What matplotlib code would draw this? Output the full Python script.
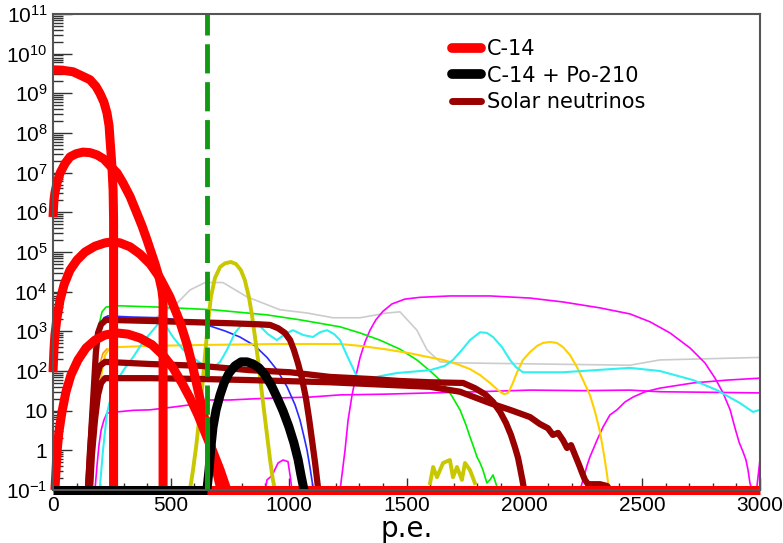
import matplotlib
matplotlib.use("Agg")
import matplotlib.pyplot as plt
from matplotlib.ticker import FixedLocator, FixedFormatter, LogLocator, MultipleLocator, NullFormatter

plt.rcParams['mathtext.fontset'] = 'custom'
plt.rcParams['mathtext.rm'] = 'Liberation Sans'

# C-14 spectra (red)
c14_1_pe = [0, 42, 85, 123, 157, 182, 199, 216, 229, 238, 242, 246, 250, 255, 257, 257]
c14_1 = [3.9e9, 3.8e9, 3.5e9, 2.75e9, 2.2e9, 1.5e9, 1.0e9, 6e8, 3.2e8, 1.5e8, 6.6e7, 3.2e7, 1.4e7,
         3.6e6, 6.5e5, 0.1]
c14_2_pe = [0, 4, 8, 17, 30, 51, 72, 98, 127, 157, 187, 216, 242, 272, 297, 327, 356, 378, 399, 416,
            433, 450, 462, 467, 467]
c14_2 = [7.6e5, 2.0e6, 3.1e6, 5.5e6, 9.8e6, 1.7e7, 2.5e7, 3.0e7, 3.3e7, 3.2e7, 2.8e7, 2.2e7, 1.5e7,
         9.8e6, 5.5e6, 2.5e6, 9.5e5, 4.5e5, 2.0e5, 1.0e5, 5.0e4, 2.3e4, 1.1e4, 6.2e3, 0.1]
c14_3_pe = [0, 4, 8, 17, 30, 47, 72, 102, 136, 178, 221, 250, 284, 327, 369, 412, 454, 496, 539, 569,
            594, 615, 637, 658, 679, 700, 713]
c14_3 = [93, 340, 810, 2200, 6200, 1.5e4, 3.5e4, 6.3e4, 1.0e5, 1.4e5, 1.7e5, 1.8e5, 1.7e5, 1.35e5,
         8.9e4, 5.0e4, 2.2e4, 7.4e3, 1.7e3, 460, 120, 33, 9.3, 2.75, 0.76, 0.21, 0.1]
c14_4_pe = [8, 13, 17, 25, 38, 55, 76, 106, 140, 178, 221, 272, 318, 369, 420, 467, 509, 547, 581,
            615, 649, 679, 709, 738]
c14_4 = [0.1, 0.32, 0.91, 2.9, 9.3, 30, 79, 190, 380, 600, 810, 910, 850, 680, 460, 250, 120, 50, 21,
         7.8, 2.45, 0.91, 0.32, 0.1]
c14_floor_pe = [650, 3000]
c14_floor = [0.1, 0.1]

# C-14 + Po-210 (black)
po_floor_pe = [0, 653]
po_floor = [0.1, 0.1]
po_pe = [653, 662, 670, 679, 692, 709, 726, 747, 772, 798, 823, 849, 874, 900, 925, 950, 976, 1001,
         1022, 1040, 1052, 1065]
po = [0.1, 0.32, 1.2, 3.9, 10.5, 25, 50, 89, 135, 170, 170, 150, 120, 79, 45, 22, 9.8, 3.9, 1.55,
      0.58, 0.24, 0.1]

# solar neutrinos (dark red)
nu_a_pe = [148, 157, 165, 174, 182, 191, 204, 225, 454, 751, 878, 921, 955, 984, 1006, 1022, 1039,
           1056, 1073, 1086, 1099, 1112, 1124]
nu_a = [0.1, 0.76, 5.8, 45, 300, 910, 1500, 1950, 1800, 1600, 1500, 1450, 1200, 910, 600, 340, 160,
        66, 21, 6.6, 1.8, 0.48, 0.12]
nu_b_pe = [148, 157, 170, 182, 199, 221, 412, 624, 836, 1006, 1175, 1345, 1472, 1600, 1740, 1790,
           1833, 1867, 1897, 1922, 1943, 1960, 1973, 1981, 1990, 1998]
nu_b = [0.1, 1.0, 10.5, 59, 135, 170, 150, 135, 105, 93, 71, 63, 56, 52, 50, 37, 26, 16.6, 9.3, 4.9,
        2.45, 1.2, 0.65, 0.38, 0.2, 0.11]
nu_c_pe = [157, 165, 178, 191, 204, 221, 412, 624, 836, 1175, 1600, 1727, 1854, 1939, 2024, 2066,
           2100, 2121, 2143, 2164, 2181, 2198, 2215, 2232, 2244, 2257, 2270, 2321, 2351, 2363]
nu_c = [0.1, 0.76, 5.8, 25, 50, 66, 66, 63, 59, 52, 40, 30, 15.5, 10.5, 6.9, 4.6, 3.6, 2.45, 2.75,
        1.8, 1.15, 1.35, 0.76, 0.43, 0.28, 0.18, 0.14, 0.14, 0.126, 0.1]

# other backgrounds (thin lines)
lime_pe = [140, 148, 157, 170, 182, 195, 208, 225, 284, 441, 679, 908, 1048, 1218, 1303, 1387, 1472,
           1544, 1600, 1655, 1693, 1727, 1752, 1769, 1786, 1799, 1812, 1824, 1841, 1854, 1867, 1884]
lime = [0.1, 0.58, 4.4, 45, 340, 1450, 3100, 4100, 4400, 4100, 3500, 2600, 1950, 1300, 910, 600, 355,
        190, 100, 50, 23, 10.5, 4.4, 2.2, 1.15, 0.68, 0.48, 0.32, 0.15, 0.18, 0.24, 0.12]
blue_pe = [144, 153, 161, 174, 187, 199, 216, 233, 327, 454, 581, 653, 730, 793, 857, 908, 950, 993,
           1027, 1048, 1065, 1078, 1090, 1103]
blue = [0.1, 0.58, 4.4, 59, 460, 1450, 2200, 2450, 2300, 2200, 1800, 1450, 1020, 720, 430, 220, 107,
        40, 14, 5.8, 2.2, 1.0, 0.38, 0.12]
cyan_pe = [199, 212, 229, 250, 272, 306, 339, 382, 424, 454, 479, 509, 551, 594, 624, 653, 679, 709,
           738, 772, 806, 849, 878, 912, 950, 984, 1018, 1061, 1103, 1133, 1163, 1193, 1218, 1252,
           1290, 1315, 1387, 1460, 1600, 1663, 1697, 1735, 1769, 1812, 1841, 1867, 1905, 1939, 1964,
           1994, 2164, 2448, 2575, 2716, 2817, 2915, 2970, 3000]
cyan = [0.12, 1.0, 8.7, 28, 59, 120, 220, 540, 1070, 1740, 1350, 720, 350, 220, 160, 126, 120, 170,
        340, 910, 1620, 1740, 1350, 850, 600, 850, 1070, 810, 720, 950, 1070, 850, 600, 215,
        71, 59, 74, 89, 105, 135, 190, 340, 600, 950, 910, 720, 400, 190, 126,
        93, 93, 120, 100, 59, 33, 15.5, 9.3, 10.5]
gold_pe = [157, 170, 182, 195, 208, 221, 238, 272, 412, 653, 963, 1218, 1303, 1409, 1515, 1600, 1655,
           1714, 1769, 1812, 1854, 1888, 1914, 1931, 1948, 1969, 1994, 2024, 2054, 2079, 2109, 2138,
           2164, 2194, 2223, 2249, 2278, 2300, 2321, 2338, 2351, 2359]
gold = [0.1, 0.58, 4.4, 25, 105, 250, 360, 400, 430, 455, 480, 480, 430, 355, 280, 220, 190,
        150, 112, 79, 50, 33, 26, 28, 45, 93, 190, 300, 430, 510, 540, 510,
        400, 250, 126, 59, 25, 9.3, 2.9, 0.76, 0.24, 0.1]
orange_pe = [165, 174, 182, 191, 199, 212, 229]
orange = [0.1, 1.2, 10, 60, 150, 280, 360]
olive_pe = [581, 594, 607, 620, 632, 645, 658, 670, 687, 709, 730, 755, 776, 797, 814, 831, 844, 857,
            870, 882, 895, 908, 921, 933, 942]
olive = [0.1, 0.32, 1.2, 5.8, 33, 250, 1740, 7400, 2.2e4, 4.2e4, 5.2e4, 5.6e4, 5.0e4, 3.5e4, 1.95e4,
         7.4e3, 2.6e3, 720, 190, 45, 10.5, 2.45, 0.58, 0.18, 0.1]
olive_tail_pe = [1600, 1613, 1629, 1655, 1684, 1697, 1714, 1735, 1748, 1769, 1790]
olive_tail = [0.15, 0.38, 0.21, 0.48, 0.57, 0.21, 0.38, 0.18, 0.48, 0.32, 0.15]
mag_low_pe = [178, 187, 195, 204, 216, 229, 272, 340, 412, 509, 580, 653, 751, 860, 963, 1090, 1218,
              1400, 1600, 1800, 2024, 2250, 2448, 2575, 2800, 3000]
mag_low = [0.1, 0.43, 1.35, 3.2, 5.8, 8.7, 9.3, 10.2, 10.5, 12.3, 14, 18.6, 18.6, 20, 21, 22, 25,
           26, 28, 30, 33, 32, 33, 30, 29, 28]
mag_arch_pe = [1218, 1226, 1239, 1252, 1269, 1286, 1303, 1324, 1345, 1370, 1400, 1438, 1493, 1557,
               1684, 1854, 2024, 2164, 2321, 2448, 2533, 2618, 2703, 2766, 2809, 2843, 2873, 2894,
               2911, 2928, 2940, 2949, 2957, 2966]
mag_arch = [0.1, 0.24, 1.0, 5.8, 25, 79, 220, 540, 1070, 1950, 3200, 4900, 6500, 7200,
            7800, 7800, 6900, 5500, 3900, 2750, 1740, 910, 380, 160, 66, 28, 10.5, 3.6,
            1.6, 0.91, 0.58, 0.32, 0.15, 0.1]
mag_edge_pe = [2985, 3000]
mag_edge = [0.1, 0.6]
mag_rise_pe = [2236, 2249, 2265, 2278, 2293, 2308, 2334, 2363, 2393, 2427, 2461, 2512, 2575, 2716,
               2860, 3000]
mag_rise = [0.1, 0.18, 0.4, 0.68, 1.1, 1.8, 3.9, 7.8, 10.5, 16.6, 22, 30, 37, 50, 59, 66]
mag_bump_pe = [900, 908, 929, 955, 976, 997, 1006, 1014]
mag_bump = [0.1, 0.18, 0.23, 0.48, 0.57, 0.52, 0.23, 0.1]
gray_pe = [441, 526, 581, 645, 721, 823, 963, 1078, 1188, 1303, 1417, 1472, 1544, 1587, 1642, 1727,
           2448, 2575, 3000]
gray = [2300, 5100, 1.1e4, 1.7e4, 1.7e4, 7400, 3500, 2900, 2200, 2200, 2900, 3100, 1070, 340, 170, 160,
        140, 190, 220]

threshold_pe = 653

y_ticks = [1e-1, 1, 10, 1e2, 1e3, 1e4, 1e5, 1e6, 1e7, 1e8, 1e9, 1e10, 1e11]
y_labels = [r'$\mathregular{10^{-1}}$', '1', '10'] + [r'$\mathregular{10^{%d}}$' % k for k in range(2, 12)]


def main():
    fig = plt.figure(figsize=(7.83, 5.43), dpi=100)
    ax = fig.add_axes([0.0677, 0.0976, 0.903, 0.8766])

    thin = dict(lw=1.2, solid_joinstyle='round')
    ax.plot(gray_pe, gray, color='#cccccc', **thin)
    ax.plot(mag_low_pe, mag_low, color='#ff00ff', **thin)
    ax.plot(mag_arch_pe, mag_arch, color='#ff00ff', **thin)
    ax.plot(mag_edge_pe, mag_edge, color='#ff00ff', **thin)
    ax.plot(mag_rise_pe, mag_rise, color='#ff00ff', **thin)
    ax.plot(mag_bump_pe, mag_bump, color='#ff00ff', **thin)
    ax.plot(lime_pe, lime, color='#00ee00', **thin)
    ax.plot(blue_pe, blue, color='#2a2aff', **thin)
    ax.plot(orange_pe, orange, color='#ff9900', **thin)
    ax.plot(gold_pe, gold, color='#ffd000', lw=1.5)
    ax.plot(cyan_pe, cyan, color='#30f0f0', lw=1.5)
    ax.plot(olive_pe, olive, color='#c8c800', lw=2.8)
    ax.plot(olive_tail_pe, olive_tail, color='#c8c800', lw=2.8)

    nu_style = dict(color='#990000', lw=4.5, solid_capstyle='round', solid_joinstyle='round')
    ax.plot(nu_a_pe, nu_a, **nu_style)
    nu_line, = ax.plot(nu_b_pe, nu_b, **nu_style)
    ax.plot(nu_c_pe, nu_c, **nu_style)

    red_style = dict(color='#ff0000', lw=6.5, solid_capstyle='butt', solid_joinstyle='round',
                     clip_on=False)
    c14_line, = ax.plot(c14_1_pe, c14_1, **red_style)
    ax.plot(c14_2_pe, c14_2, **red_style)
    ax.plot(c14_3_pe, c14_3, **red_style)
    ax.plot(c14_4_pe, c14_4, **red_style)
    ax.plot(c14_floor_pe, c14_floor, **red_style)

    black_style = dict(color='black', lw=6.5, solid_capstyle='butt', solid_joinstyle='round',
                       clip_on=False)
    po_line, = ax.plot(po_pe, po, **black_style)
    ax.plot(po_floor_pe, po_floor, **black_style)

    ax.plot([threshold_pe, threshold_pe], [0.1, 6], color='#119911', lw=3.5)
    ax.plot([threshold_pe, threshold_pe], [0.1, 1e11], color='#119911', lw=3.5,
            dashes=(6, 1.8))

    ax.set_yscale('log')
    ax.set_xlim(0, 3000)
    ax.set_ylim(0.1, 1e11)

    ax.yaxis.set_major_locator(FixedLocator(y_ticks))
    ax.yaxis.set_major_formatter(FixedFormatter(y_labels))
    ax.yaxis.set_minor_locator(LogLocator(base=10, subs=range(2, 10), numticks=20))
    ax.yaxis.set_minor_formatter(NullFormatter())
    ax.xaxis.set_major_locator(MultipleLocator(500))
    ax.xaxis.set_minor_locator(MultipleLocator(100))

    ax.tick_params(axis='both', which='both', direction='in', top=False, right=False,
                   color='#333333')
    ax.tick_params(axis='y', which='major', length=14, width=1, labelsize=15, pad=4)
    ax.tick_params(axis='y', which='minor', length=7, width=1)
    ax.tick_params(axis='x', which='major', length=9, width=1, labelsize=15, pad=4)
    ax.tick_params(axis='x', which='minor', length=5, width=1)
    for lbl in ax.get_xticklabels() + ax.get_yticklabels():
        lbl.set_fontfamily('Liberation Sans')
    for sp in ax.spines.values():
        sp.set_color('#555555')
        sp.set_linewidth(1.5)

    ax.set_xlabel('p.e.', fontsize=20, labelpad=0)

    leg = ax.legend([c14_line, po_line, nu_line], ['C-14', 'C-14 + Po-210', 'Solar neutrinos'],
                    loc='upper left', bbox_to_anchor=(0.552, 0.965), frameon=False,
                    fontsize=15, handlelength=1.4, handletextpad=0.3, labelspacing=0.32,
                    borderaxespad=0)
    for h, w in zip(leg.get_lines(), [7, 7, 5]):
        h.set_solid_capstyle('round')
        h.set_linewidth(w)

    fig.savefig('out.png', dpi=100)


if __name__ == "__main__":
    main()
